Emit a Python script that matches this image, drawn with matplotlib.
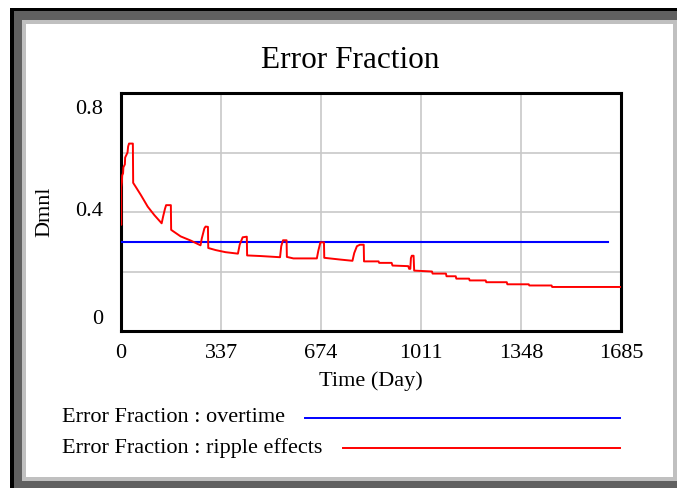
import matplotlib
matplotlib.use("Agg")
import matplotlib.pyplot as plt
from matplotlib.patches import Rectangle
from matplotlib.lines import Line2D
from matplotlib.transforms import ScaledTranslation

# Data (time in days, value in Dmnl)
overtime_t = [0, 1640]
overtime_v = [0.30, 0.30]

ripple_t = [0, 1, 1, 3, 4, 7, 8, 13, 14, 22, 24, 27, 40, 41, 50, 67, 90, 112, 137,
            142, 148, 152, 168, 169, 201, 235, 268, 272, 281, 285, 293, 294, 319,
            352, 394, 400, 410, 424, 425, 470, 536, 540, 546, 558, 559, 581, 660,
            665, 672, 684, 685, 740, 780, 786, 795, 805, 818, 819, 868, 870, 912,
            915, 968, 971, 975, 977, 980, 986, 988, 1048, 1050, 1095, 1097, 1128,
            1130, 1173, 1175, 1229, 1231, 1300, 1302, 1374, 1376, 1451, 1453, 1685]
ripple_v = [0.357, 0.357, 0.483, 0.5, 0.523, 0.53, 0.55, 0.56, 0.583, 0.6, 0.62,
            0.63, 0.63, 0.498, 0.484, 0.457, 0.418, 0.39, 0.362, 0.385, 0.41, 0.423,
            0.423, 0.34, 0.318, 0.304, 0.288, 0.31, 0.345, 0.351, 0.35, 0.279, 0.272,
            0.265, 0.26, 0.29, 0.315, 0.317, 0.254, 0.252, 0.248, 0.285, 0.305, 0.305,
            0.249, 0.244, 0.244, 0.27, 0.298, 0.298, 0.246, 0.24, 0.236, 0.262, 0.285,
            0.29, 0.29, 0.234, 0.234, 0.229, 0.229, 0.22, 0.218, 0.209, 0.209, 0.245,
            0.253, 0.253, 0.203, 0.2, 0.193, 0.193, 0.184, 0.184, 0.176, 0.176, 0.17,
            0.17, 0.164, 0.164, 0.157, 0.157, 0.153, 0.153, 0.148, 0.148]

x_ticks = [0, 337, 674, 1011, 1348, 1685]
y_grid = [0, 0.2, 0.4, 0.6, 0.8]
y_labels = {0: "0", 0.4: "0.4", 0.8: "0.8"}

W, H = 677, 488
plt.rcParams['font.family'] = ['Liberation Serif', 'DejaVu Serif']

fig = plt.figure(figsize=(W / 100, H / 100), dpi=100, facecolor="white")


def px_rect(x0, y0, x1, y1, color):
    # rectangle given in pixel coords measured from the top-left corner
    fig.patches.append(Rectangle((x0 / W, 1 - y1 / H), (x1 - x0) / W, (y1 - y0) / H,
                                 transform=fig.transFigure, facecolor=color,
                                 edgecolor="none", zorder=-10))


# window frame
px_rect(10, 8, 677, 488, "black")
px_rect(14, 11, 677, 488, "#606060")
px_rect(22, 20, 677, 481, "#c0c0c0")
px_rect(26, 24, 673, 477, "white")

ax = fig.add_axes([121 / W, 1 - 331 / H, (621 - 121) / W, (331 - 93) / H])
ax.set_facecolor("white")
ax.plot(overtime_t, overtime_v, color="#0000ff", lw=1.5, zorder=3)
ax.plot(ripple_t, ripple_v, color="#ff0000", lw=1.4, zorder=3)

ax.set_xlim(0, 1685)
ax.set_ylim(0, 0.8)
ax.set_xticks(x_ticks)
ax.set_xticklabels([str(t) for t in x_ticks], fontsize=16)
ax.set_yticks(y_grid)
ax.set_yticklabels([])
ax.tick_params(length=0, pad=9)
ax.grid(True, color="#c8c8c8", lw=1.2)
ax.set_axisbelow(True)
for s in ax.spines.values():
    s.set_linewidth(2.2)
    s.set_color("black")

# y labels, top and bottom pulled inside the axis range like the original
shift = {0: 11.5, 0.4: 0, 0.8: -17}
for val, lab in y_labels.items():
    tr = ax.get_yaxis_transform() + ScaledTranslation(-18 / 100, shift[val] / 100, fig.dpi_scale_trans)
    ax.text(0, val, lab, transform=tr, ha="right", va="center", fontsize=16)

fig.text(350 / W, 1 - 60 / H, "Error Fraction", ha="center", va="center", fontsize=22.5)
fig.text(371 / W, 1 - 381 / H, "Time (Day)", ha="center", va="center", fontsize=16)
fig.text(45 / W, 1 - 212 / H, "Dmnl", ha="center", va="center", rotation=90, fontsize=16)

# legend: text followed by a sample line
legend = [("Error Fraction : overtime", "#0000ff", 418, 305),
          ("Error Fraction : ripple effects", "#ff0000", 448, 343)]
for lab, col, y, xs in legend:
    fig.text(62 / W, 1 - y / H, lab, ha="left", va="center", fontsize=16)
    fig.lines.append(Line2D([xs / W, 620 / W], [1 - y / H, 1 - y / H],
                            transform=fig.transFigure, color=col, lw=1.4))

fig.savefig("out.png", dpi=100, facecolor="white")
